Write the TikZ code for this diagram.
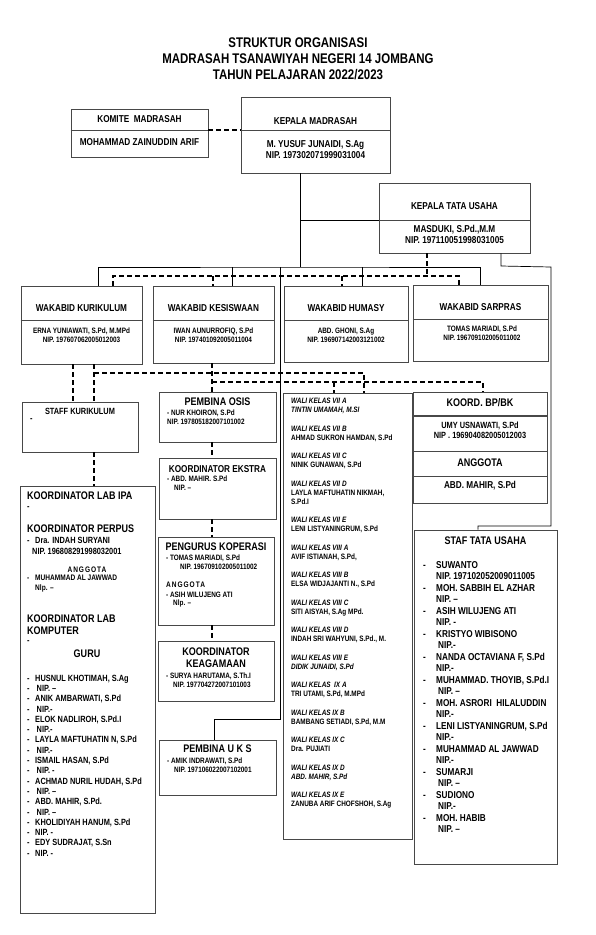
\documentclass[tikz,border=0pt]{standalone}
\usepackage{fontspec}
\setmainfont{Liberation Sans}[FakeStretch=0.82]
\usepackage{xcolor}
\definecolor{boxgray}{HTML}{484848}
\newcommand{\fsz}[2]{\fontsize{#1}{#2}\selectfont\bfseries}
\newcommand{\gitem}[2][8pt]{\makebox[#1][l]{-}#2}

\begin{document}
\begin{tikzpicture}[
  x=1pt, y=-1pt,
  box/.style={draw=boxgray, line width=0.9pt, inner sep=0pt},
  sep/.style={draw=boxgray, line width=0.9pt},
  txt/.style={inner sep=0pt},
  ttl/.style={txt, font=\fsz{14}{16}, align=center},
  head/.style={txt, font=\fsz{10}{11}, align=center},
  big/.style={txt, font=\fsz{11}{12}, align=center},
  info/.style={txt, font=\fsz{7.8}{8.8}, align=left, anchor=west},
  conn/.style={line width=0.7pt},
  dline/.style={line width=1.1pt, dash pattern=on 5pt off 3pt}
]
\useasboundingbox (0,0) rectangle (595,935);

\node[ttl] (title) at (298,59) {STRUKTUR ORGANISASI\\MADRASAH TSANAWIYAH NEGERI 14 JOMBANG\\TAHUN PELAJARAN 2022/2023};

% pimpinan
\node[box, minimum width=137, minimum height=48] (komite) at (139.5,133) {};
\draw[sep] (komite.west |- 0,130) -- (komite.east |- 0,130);
\node[head] (komite-j) at (139.5,119) {KOMITE\ \ MADRASAH};
\node[head] (komite-n) at (139.5,142) {MOHAMMAD ZAINUDDIN ARIF};

\node[box, minimum width=149, minimum height=76] (kepala) at (315.5,135) {};
\draw[sep] (kepala.west |- 0,130) -- (kepala.east |- 0,130);
\node[head] (kepala-j) at (315.5,121) {KEPALA MADRASAH};
\node[head] (kepala-n) at (315.5,149.5) {M. YUSUF JUNAIDI, S.Ag\\NIP. 197302071999031004};

\node[box, minimum width=151, minimum height=70] (ktu) at (454.5,218) {};
\draw[sep] (ktu.west |- 0,220) -- (ktu.east |- 0,220);
\node[head] (ktu-j) at (454.5,206) {KEPALA TATA USAHA};
\node[head] (ktu-n) at (454.5,234.5) {MASDUKI, S.Pd.,M.M\\NIP. 197110051998031005};

% wakabid
\node[box, minimum width=121, minimum height=78] (wkur) at (81.5,325) {};
\draw[sep] (wkur.west |- 0,320) -- (wkur.east |- 0,320);
\node[head] (wkur-j) at (81.5,308) {WAKABID KURIKULUM};
\node[info, anchor=center, align=center] (wkur-n) at (81.5,335) {ERNA YUNIAWATI, S.Pd, M.MPd\\NIP. 197607062005012003};

\node[box, minimum width=121, minimum height=77] (wkes) at (213.5,324.5) {};
\draw[sep] (wkes.west |- 0,320.5) -- (wkes.east |- 0,320.5);
\node[head] (wkes-j) at (213.5,308) {WAKABID KESISWAAN};
\node[info, anchor=center, align=center] (wkes-n) at (213.5,335) {IWAN AUNURROFIQ, S.Pd\\NIP. 197401092005011004};

\node[box, minimum width=124, minimum height=76] (whum) at (346,324) {};
\draw[sep] (whum.west |- 0,320) -- (whum.east |- 0,320);
\node[head] (whum-j) at (346,308) {WAKABID HUMASY};
\node[info, anchor=center, align=center] (whum-n) at (346,335) {ABD. GHONI, S.Ag\\NIP. 196907142003121002};

\node[box, minimum width=135, minimum height=76] (wsar) at (480.5,323) {};
\draw[sep] (wsar.west |- 0,319) -- (wsar.east |- 0,319);
\node[head] (wsar-j) at (480.5,307) {WAKABID SARPRAS};
\node[info, anchor=center, align=center] (wsar-n) at (482,333.5) {TOMAS MARIADI, S.Pd\\NIP. 196709102005011002};

% kurikulum
\node[box, minimum width=116, minimum height=50] (staffkur) at (80,427) {};
\node[txt, font=\fsz{9}{10}] (staffkur-j) at (80,411) {STAFF KURIKULUM};
\node[txt, font=\fsz{9}{10}, anchor=west] (staffkur-n) at (30,420) {-};

\node[box, minimum width=135, minimum height=427] (lab) at (87.5,699.5) {};
\node[big, anchor=west] (ipa) at (27,496) {KOORDINATOR LAB IPA};
\node[txt, font=\fsz{9}{10}, anchor=west] (ipa-n) at (27,508) {-};
\node[big, anchor=west] (perpus) at (27,529) {KOORDINATOR PERPUS};
\node[txt, font=\fsz{9}{11}, align=left, anchor=west] (perpus-n) at (27,545.5) {\gitem{Dra. INDAH SURYANI}\\\hspace{5pt}NIP. 196808291998032001};
\node[txt, font=\fsz{8}{9}\addfontfeature{LetterSpace=12}] (perpus-a) at (87,570) {ANGGOTA};
\node[txt, font=\fsz{8}{10}, align=left, anchor=west] (perpus-m) at (27,584) {\gitem{MUHAMMAD AL JAWWAD}\\\hspace{8pt}Nlp. --};
\node[big, anchor=west, align=left] (komp) at (27,625) {KOORDINATOR LAB\\KOMPUTER};
\node[txt, font=\fsz{9}{10}, anchor=west] (komp-n) at (27,642) {-};
\node[big] (guru) at (87,654) {GURU};
\node[txt, font=\fsz{9}{10.3}, align=left, anchor=west] (guru-l) at (27,765.5) {%
  \gitem{HUSNUL KHOTIMAH, S.Ag}\\\gitem{\,NIP. –}\\
  \gitem{ANIK AMBARWATI, S.Pd}\\\gitem{\,NIP.-}\\
  \gitem{ELOK NADLIROH, S.Pd.I}\\\gitem{\,NIP.-}\\
  \gitem{LAYLA MAFTUHATIN N, S.Pd}\\\gitem{\,NIP.-}\\
  \gitem{ISMAIL HASAN, S.Pd}\\\gitem{\,NIP. -}\\
  \gitem{ACHMAD NURIL HUDAH, S.Pd}\\\gitem{\,NIP. –}\\
  \gitem{ABD. MAHIR, S.Pd.}\\\gitem{\,NIP. –}\\
  \gitem{KHOLIDIYAH HANUM, S.Pd}\\\gitem{NIP. -}\\
  \gitem{EDY SUDRAJAT, S.Sn}\\\gitem{NIP. -}};

% kesiswaan
\node[box, minimum width=117, minimum height=50] (osis) at (217.5,417) {};
\node[big] (osis-j) at (217.5,402) {PEMBINA OSIS};
\node[info] (osis-n) at (167,417.5) {- NUR KHOIRON, S.Pd\\NIP. 197805182007101002};

\node[box, minimum width=117, minimum height=61] (ekstra) at (217.5,488.5) {};
\node[head] (ekstra-j) at (217.5,469) {KOORDINATOR EKSTRA};
\node[info] (ekstra-n) at (167,483.5) {- ABD. MAHIR. S.Pd\\\hspace{7pt}NIP. –};

\node[box, minimum width=116, minimum height=88] (koperasi) at (216,581) {};
\node[big] (koperasi-j) at (216,547) {PENGURUS KOPERASI};
\node[info] (koperasi-n) at (166,562.5) {- TOMAS MARIADI, S.Pd\\\hspace{14pt}NIP. 196709102005011002};
\node[txt, font=\fsz{8}{9}\addfontfeature{LetterSpace=12}, anchor=west] (koperasi-a) at (166,585) {ANGGOTA};
\node[info] (koperasi-m) at (166,599.5) {- ASIH WILUJENG ATI\\\hspace{7pt}Nlp. --};

\node[box, minimum width=116, minimum height=60] (agama) at (216,671) {};
\node[big] (agama-j) at (216,658) {KOORDINATOR\\KEAGAMAAN};
\node[info] (agama-n) at (166,680.5) {- SURYA HARUTAMA, S.Th.I\\\hspace{7pt}NIP. 197704272007101003};

\node[box, minimum width=117, minimum height=55] (uks) at (217.5,767.5) {};
\node[big] (uks-j) at (217.5,749) {PEMBINA U K S};
\node[info] (uks-n) at (167,765) {- AMIK INDRAWATI, S.Pd\\\hspace{7pt}NIP. 197106022007102001};

% wali kelas
\node[box, minimum width=129, minimum height=446] (wali) at (347.5,616) {};
\node[txt, font=\fsz{7.8}{9}, align=left, anchor=west] (wali-l) at (291,603.5) {%
  \textit{WALI KELAS VII A}\\\textit{TINTIN UMAMAH, M.SI}\\[9.5pt]
  \textit{WALI KELAS VII B}\\AHMAD SUKRON HAMDAN, S.Pd\\[9.5pt]
  \textit{WALI KELAS VII C}\\NINIK GUNAWAN, S.Pd\\[9.5pt]
  \textit{WALI KELAS VII D}\\LAYLA MAFTUHATIN NIKMAH,\\S.Pd.I\\[9.5pt]
  \textit{WALI KELAS VII E}\\LENI LISTYANINGRUM, S.Pd\\[9.5pt]
  \textit{WALI KELAS VIII A}\\AVIF ISTIANAH, S.Pd,\\[9.5pt]
  \textit{WALI KELAS VIII B}\\ELSA WIDJAJANTI N., S.Pd\\[9.5pt]
  \textit{WALI KELAS VIII C}\\SITI AISYAH, S.Ag MPd.\\[9.5pt]
  \textit{WALI KELAS VIII D}\\INDAH SRI WAHYUNI, S.Pd., M.\\[9.5pt]
  \textit{WALI KELAS VIII E}\\\textit{DIDIK JUNAIDI, S.Pd}\\[9.5pt]
  \textit{WALI KELAS\ \ IX A}\\TRI UTAMI, S.Pd, M.MPd\\[9.5pt]
  \textit{WALI KELAS IX B}\\BAMBANG SETIADI, S.Pd, M.M\\[9.5pt]
  \textit{WALI KELAS IX C}\\Dra. PUJIATI\\[9.5pt]
  \textit{WALI KELAS IX D}\\\textit{ABD. MAHIR, S.Pd}\\[9.5pt]
  \textit{WALI KELAS IX E}\\ZANUBA ARIF CHOFSHOH, S.Ag};

% bp/bk
\node[box, minimum width=134, minimum height=111] (bpbk) at (480,447.5) {};
\draw[sep, line width=1.8pt] (bpbk.west |- 0,416) -- (bpbk.east |- 0,416);
\draw[sep] (bpbk.west |- 0,451) -- (bpbk.east |- 0,451);
\draw[sep] (bpbk.west |- 0,476) -- (bpbk.east |- 0,476);
\node[big] (bpbk-j) at (480,403) {KOORD. BP/BK};
\node[txt, font=\fsz{9}{10}, align=center] (bpbk-n) at (480,430) {UMY USNAWATI, S.Pd\\NIP . 196904082005012003};
\node[big] (bpbk-a) at (480,463) {ANGGOTA};
\node[txt, font=\fsz{10}{11}] (bpbk-m) at (480,486) {ABD. MAHIR, S.Pd};

% staf tata usaha
\node[box, minimum width=143, minimum height=334] (staftu) at (485.5,697) {};
\node[big] (staftu-j) at (485.5,541) {STAF TATA USAHA};
\node[txt, font=\fsz{10}{11.48}, align=left, anchor=west] (staftu-l) at (423,697) {%
  \gitem[13pt]{SUWANTO}\\\hspace{13pt}NIP. 197102052009011005\\
  \gitem[13pt]{MOH. SABBIH EL AZHAR}\\\hspace{13pt}NIP. –\\
  \gitem[13pt]{ASIH WILUJENG ATI}\\\hspace{13pt}NIP. -\\
  \gitem[13pt]{KRISTYO WIBISONO}\\\hspace{15pt}NIP.-\\
  \gitem[13pt]{NANDA OCTAVIANA F, S.Pd}\\\hspace{13pt}NIP.-\\
  \gitem[13pt]{MUHAMMAD. THOYIB, S.Pd.I}\\\hspace{15pt}NIP. –\\
  \gitem[13pt]{MOH. ASRORI\ \ HILALUDDIN}\\\hspace{13pt}NIP.-\\
  \gitem[13pt]{LENI LISTYANINGRUM, S.Pd}\\\hspace{13pt}NIP.-\\
  \gitem[13pt]{MUHAMMAD AL JAWWAD}\\\hspace{13pt}NIP.-\\
  \gitem[13pt]{SUMARJI}\\\hspace{15pt}NIP. –\\
  \gitem[13pt]{SUDIONO}\\\hspace{15pt}NIP.-\\
  \gitem[13pt]{MOH. HABIB}\\\hspace{15pt}NIP. –};

% garis komando
\coordinate (bus) at (300,267);
\coordinate (tuj) at (300,220);
\draw[dline] (komite.east |- 0,130) -- (kepala.west |- 0,130);
\draw[conn] (kepala.south -| bus) -- (bus);
\draw[conn] (tuj) -- (ktu.west |- tuj);
\draw[conn] (wkur.north -| 98,0) |- (bus) -| (wsar.north);
\draw[conn] (bus -| 232,0) -- (wkes.north -| 232,0);
\draw[conn] (bus -| 362,0) -- (whum.north -| 362,0);
\draw[conn] (bus -| 280,0) -- (280,719) -| (uks.north -| 214,0);
\draw[conn] (ktu.south -| 501,0) -- (501,266) -- (551,267) -- (551,526) -| (staftu.north -| 478,0);

% garis koordinasi
\coordinate (dbus) at (427,276);
\draw[dline] (ktu.south -| dbus) -- (dbus);
\draw[dline] (wkur.north -| 113,0) |- (dbus -| 459,0) -- (wsar.north -| 459,0);
\draw[dline] (dbus -| 213,0) -- (wkes.north -| 213,0);
\draw[dline] (dbus -| 342,0) -- (whum.north -| 342,0);
\draw[dline] (wkur.south -| 73,0) -- (staffkur.north -| 73,0);
\draw[dline] (wkur.south -| 94,0) -- (staffkur.north -| 94,0);
\draw[dline] (staffkur.south -| 94,0) -- (lab.north -| 94,0);
\draw[dline] (94,373) -| (wali.north -| 364,0);
\draw[dline] (wkes.south -| 212,0) -- (osis.north -| 212,0);
\draw[dline] (osis.south -| 212,0) -- (ekstra.north -| 212,0);
\draw[dline] (ekstra.south -| 212,0) -- (koperasi.north -| 212,0);
\draw[dline] (koperasi.south -| 212,0) -- (agama.north -| 212,0);
\draw[dline] (212,382) -| (bpbk.north -| 483,0);
\draw[dline] (334,382) -- (wali.north -| 334,0);
\end{tikzpicture}
\end{document}
